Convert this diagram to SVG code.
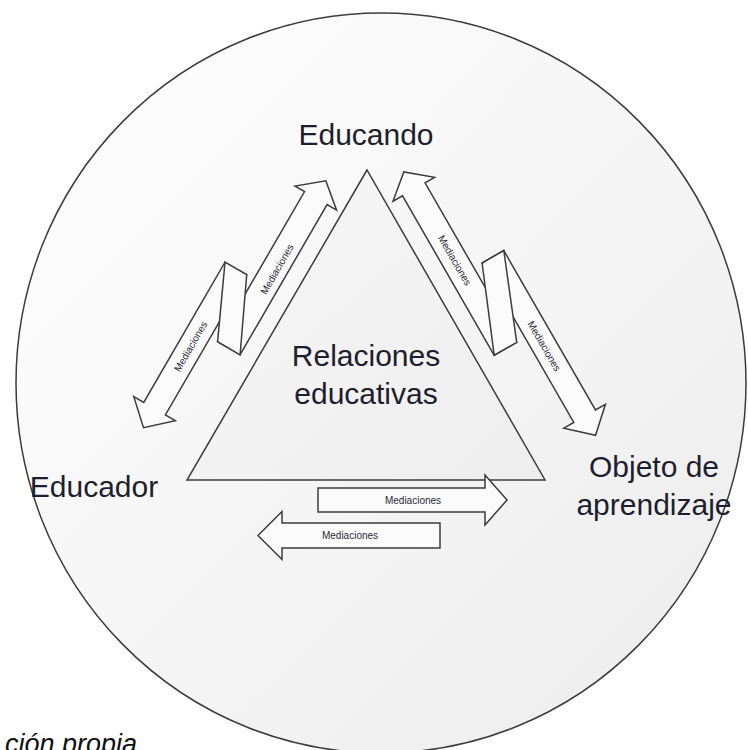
<svg xmlns="http://www.w3.org/2000/svg" width="748" height="750" viewBox="0 0 748 750">
  <style>
    .lbl { font-family: "Liberation Sans", Arial, sans-serif; font-size: 30px; fill: #1e1e2e; text-anchor: middle; }
    .med { font-family: "Liberation Sans", Arial, sans-serif; font-size: 10px; fill: #2a2a3a; text-anchor: middle; }
    .arrow { fill: #fbfbfb; stroke: #3c3c3c; stroke-width: 1.5; stroke-linejoin: miter; }
    .cap { font-family: "Liberation Sans", Arial, sans-serif; font-size: 27px; font-style: italic; fill: #111; text-anchor: end; }
  </style>
  <defs>
    <linearGradient id="gCircle" x1="0" y1="0" x2="1" y2="1">
      <stop offset="0" stop-color="#ffffff"/>
      <stop offset="1" stop-color="#ececec"/>
    </linearGradient>
    <linearGradient id="gTri" x1="0" y1="0" x2="1" y2="1">
      <stop offset="0" stop-color="#f7f7f7"/>
      <stop offset="1" stop-color="#eeeeee"/>
    </linearGradient>
  </defs>

  <rect x="0" y="0" width="748" height="750" fill="#ffffff"/>

  <g id="context-circle">
    <ellipse cx="381" cy="383" rx="365" ry="370" fill="url(#gCircle)" stroke="#3c3c3c" stroke-width="1.5"/>
  </g>

  <g id="node-relaciones">
    <polygon points="367,170 187,480 545,480" fill="url(#gTri)" stroke="#3c3c3c" stroke-width="1.5"/>
    <text class="lbl" x="366" y="366">Relaciones</text>
    <text class="lbl" x="366" y="404">educativas</text>
  </g>

  <g id="node-educando">
    <text class="lbl" x="366" y="145">Educando</text>
  </g>

  <g id="node-educador">
    <text class="lbl" x="94" y="497">Educador</text>
  </g>

  <g id="node-objeto">
    <text class="lbl" x="654" y="477">Objeto de</text>
    <text class="lbl" x="654" y="515">aprendizaje</text>
  </g>

  <g id="connectors">
    <!-- left side: up arrow toward Educando -->
    <path class="arrow" transform="translate(228.8,348.2) rotate(-59.9)" d="M0,-13 H173.5 V-24 L193.5,0 L173.5,24 V13 H0 Z"/>
    <!-- left side: down arrow toward Educador -->
    <path class="arrow" transform="translate(235.8,268.5) rotate(120.1)" d="M0,-12.5 H162 V-24 L184,0 L162,24 V12.5 H0 Z"/>
    <polygon class="arrow" points="246.7,274.7 225,262.2 217.6,341.7 240.1,354.8"/>
    <text class="med" transform="translate(277,269.2) rotate(-60)" dy="3.5">Mediaciones</text>
    <text class="med" transform="translate(190.6,346.4) rotate(-60)" dy="3.5">Mediaciones</text>

    <!-- right side: up arrow toward Educando -->
    <path class="arrow" transform="translate(505.5,348.8) rotate(-119.9)" d="M0,-13 H184 V-24 L204,0 L184,24 V13 H0 Z"/>
    <!-- right side: down arrow toward Objeto -->
    <path class="arrow" transform="translate(492.9,256.7) rotate(60.1)" d="M0,-12.5 H184 V-24 L206,0 L184,24 V12.5 H0 Z"/>
    <polygon class="arrow" points="482.1,263 503.8,250.5 516.7,342.3 494.2,355.2"/>
    <text class="med" transform="translate(454.7,260.4) rotate(60)" dy="3.5">Mediaciones</text>
    <text class="med" transform="translate(544.2,346.1) rotate(60)" dy="3.5">Mediaciones</text>

    <!-- bottom: toward Objeto -->
    <path class="arrow" d="M318,488 H485 V475 L507,500 L485,525 V512 H318 Z"/>
    <text class="med" x="413" y="503.5">Mediaciones</text>
    <!-- bottom: toward Educador -->
    <path class="arrow" d="M440,523 H282 V511.5 L258,535.5 L282,559.5 V548 H440 Z"/>
    <text class="med" x="350" y="539">Mediaciones</text>
  </g>

  <text class="cap" x="137" y="753">ción propia</text>
</svg>
